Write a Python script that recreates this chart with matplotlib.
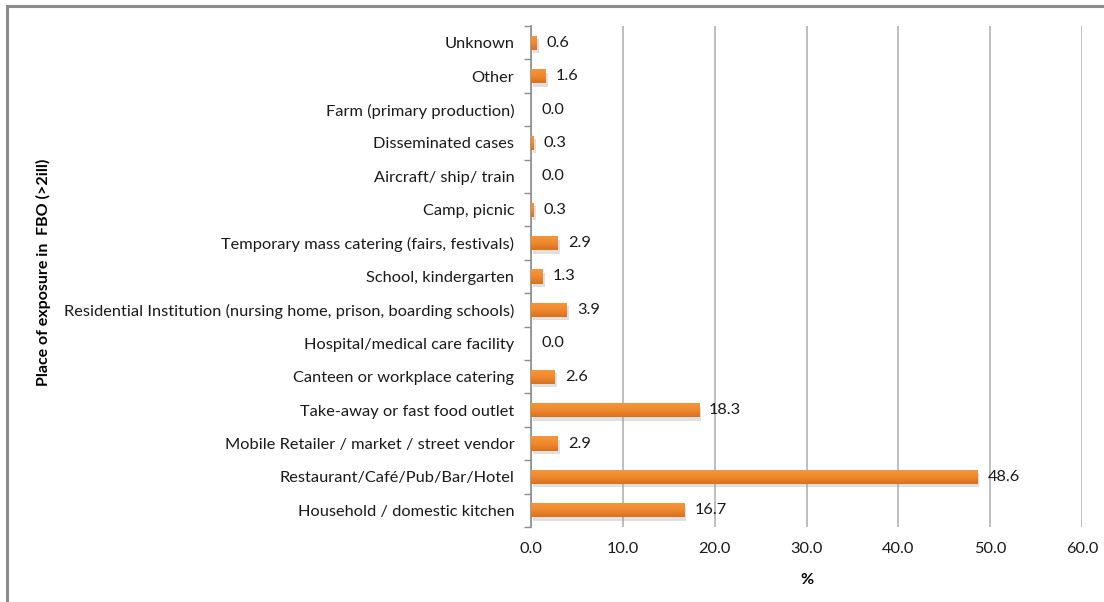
import numpy as np
import matplotlib
matplotlib.use("Agg")
import matplotlib.pyplot as plt
from matplotlib.patches import Rectangle
from matplotlib.colors import LinearSegmentedColormap
from matplotlib.ticker import FixedLocator
import matplotlib.patheffects as pe

plt.rcParams['font.family'] = ['Lato', 'DejaVu Sans']

categories = [
    "Household / domestic kitchen",
    "Restaurant/Café/Pub/Bar/Hotel",
    "Mobile Retailer / market / street vendor",
    "Take-away or fast food outlet",
    "Canteen or workplace catering",
    "Hospital/medical care facility",
    "Residential Institution (nursing home, prison, boarding schools)",
    "School, kindergarten",
    "Temporary mass catering (fairs, festivals)",
    "Camp, picnic",
    "Aircraft/ ship/ train",
    "Disseminated cases",
    "Farm (primary production)",
    "Other",
    "Unknown",
]
values = [16.7, 48.6, 2.9, 18.3, 2.6, 0.0, 3.9, 1.3, 2.9, 0.3, 0.0, 0.3, 0.0, 1.6, 0.6]
x_ticks = [0, 10, 20, 30, 40, 50, 60]

W, H = 1104, 602
fig = plt.figure(figsize=(W / 100, H / 100), dpi=100)
fig.patch.set_facecolor("white")

# outer chart frame
fig.patches.append(Rectangle((7 / W, -0.05), 1.2, 1 - 6 / H + 0.05,
                             transform=fig.transFigure, fill=False,
                             edgecolor="#8c8c8c", linewidth=2.2))

ax = fig.add_axes([531 / W, 1 - 527 / H, (1082 - 531) / W, (527 - 26) / H])

y = np.arange(len(categories))
bar_h = 0.42
bars = ax.barh(y, values, height=bar_h, color="#F0872C", zorder=3,
               path_effects=[pe.SimplePatchShadow(offset=(1.5, -2.5),
                                                  shadow_rgbFace="#999999",
                                                  alpha=0.3),
                             pe.Normal()])

# vertical gradient on each bar
grad = LinearSegmentedColormap.from_list("bar", ["#F9963A", "#F08A2E", "#D8701E"])
gimg = np.linspace(0, 1, 64).reshape(-1, 1)
for rect in bars:
    w = rect.get_width()
    if w <= 0:
        continue
    y0 = rect.get_y()
    im = ax.imshow(gimg, cmap=grad, aspect="auto", origin="upper",
                   extent=[0, w, y0, y0 + rect.get_height()], zorder=4)
    im.set_clip_path(rect)

for yi, v in zip(y, values):
    ax.text(v + 1.1, yi, f"{v:.1f}", va="center", ha="left",
            fontsize=11.8, color="#1a1a1a", zorder=5)

ax.set_xlim(0, 60)
ax.set_ylim(-0.5, len(categories) - 0.5)
ax.set_xticks(x_ticks)
ax.set_xticklabels([f"{t:.1f}" for t in x_ticks], fontsize=11.8, color="#1a1a1a")
ax.set_yticks(y)
ax.set_yticklabels(categories, fontsize=11.8, color="#1a1a1a")

ax.tick_params(axis="y", which="major", length=0, pad=12)
ax.yaxis.set_minor_locator(FixedLocator(np.arange(-0.5, len(categories), 1.0)))
ax.tick_params(axis="y", which="minor", length=5, color="#8c8c8c", width=1)
ax.tick_params(axis="x", length=0, pad=11)

ax.xaxis.grid(True, color="#b3b3b3", linewidth=1.2, zorder=0)
ax.set_axisbelow(True)
for s in ["top", "right", "bottom"]:
    ax.spines[s].set_visible(False)
ax.spines["left"].set_color("#8c8c8c")
ax.spines["left"].set_linewidth(1.2)

ax.set_xlabel("%", fontsize=11.5, fontweight="bold", labelpad=12)
fig.text(43 / W, 1 - 272 / H, "Place of exposure in  FBO (>2ill)", rotation=90,
         fontsize=11.5, fontweight="bold", ha="center", va="center")

fig.savefig("out.png", dpi=100)
